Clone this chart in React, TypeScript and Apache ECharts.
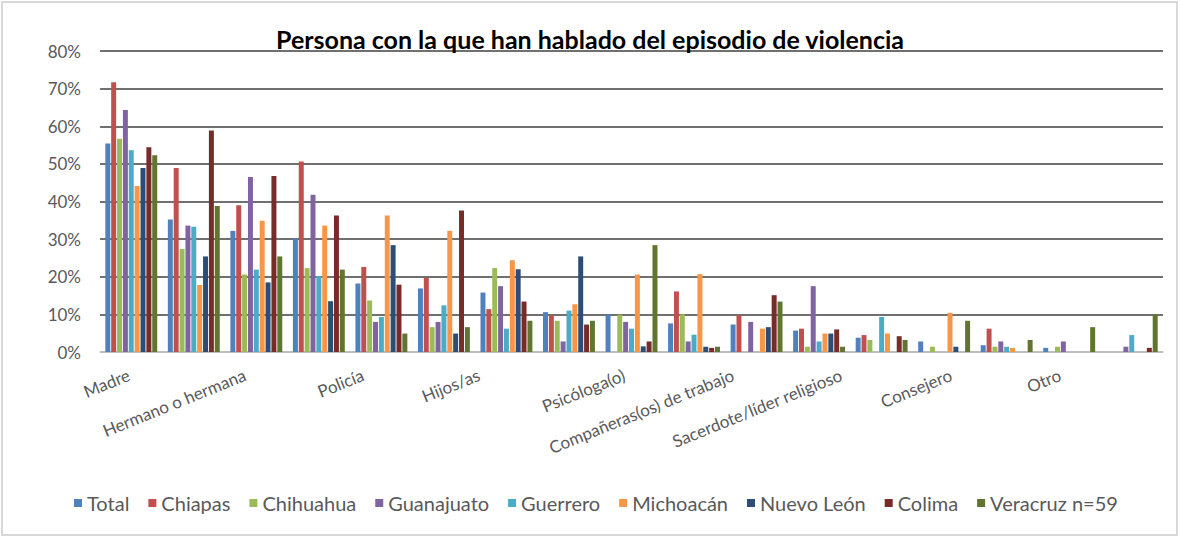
import React, { useEffect, useRef } from "react";
import * as echarts from "echarts";

const TITLE = "Persona con la que han hablado del episodio de violencia";

// 17 categories; only every other one is labelled in the chart
const categories = [
  "Madre",
  "Padre",
  "Hermano o hermana",
  "Pareja",
  "Policía",
  "Amiga(o)",
  "Hijos/as",
  "Otro familiar",
  "Psicóloga(o)",
  "Vecina(o)",
  "Compañeras(os) de trabajo",
  "Abogada(o)",
  "Sacerdote/líder religioso",
  "Médica(o)",
  "Consejero",
  "Maestra(o)",
  "Otro",
];

const visibleLabels = [
  "Madre",
  "Hermano o hermana",
  "Policía",
  "Hijos/as",
  "Psicóloga(o)",
  "Compañeras(os) de trabajo",
  "Sacerdote/líder religioso",
  "Consejero",
  "Otro",
];

const seriesNames = [
  "Total",
  "Chiapas",
  "Chihuahua",
  "Guanajuato",
  "Guerrero",
  "Michoacán",
  "Nuevo León",
  "Colima",
  "Veracruz n=59",
];

const total = [55.4, 35.2, 32.2, 30.1, 18.2, 16.9, 15.8, 10.6, 9.9, 7.6, 7.3, 5.7, 3.8, 2.8, 1.8, 1.1, 0];
const chiapas = [71.7, 48.9, 39.0, 50.6, 22.6, 19.7, 11.4, 9.8, 0, 16.1, 9.8, 6.2, 4.5, 0, 6.2, 0, 0];
const chihuahua = [56.7, 27.4, 20.6, 22.3, 13.7, 6.6, 22.3, 8.3, 9.9, 10.0, 0, 1.4, 3.2, 1.4, 1.4, 1.4, 0];
const guanajuato = [64.3, 33.6, 46.5, 41.8, 8.0, 8.0, 17.5, 2.8, 8.0, 2.8, 8.0, 17.5, 0, 0, 2.8, 2.8, 1.4];
const guerrero = [53.6, 33.3, 21.9, 20.2, 9.3, 12.4, 6.2, 11.0, 6.2, 4.6, 0, 2.8, 9.3, 0, 1.4, 0, 4.5];
const michoacan = [44.1, 17.8, 34.9, 33.6, 36.3, 32.2, 24.4, 12.7, 20.6, 20.7, 6.2, 4.9, 4.9, 10.4, 1.1, 0, 0];
const nuevoLeon = [48.9, 25.4, 18.5, 13.5, 28.4, 4.9, 22.0, 25.4, 1.5, 1.4, 6.6, 4.9, 0, 1.4, 0, 0, 0];
const colima = [54.4, 58.9, 46.8, 36.3, 17.9, 37.6, 13.4, 7.3, 2.8, 1.1, 15.1, 6.0, 4.2, 0, 0, 0, 1.1];
const veracruz = [52.3, 38.8, 25.4, 21.9, 4.9, 6.6, 8.3, 8.3, 28.4, 1.4, 13.4, 1.4, 3.2, 8.3, 3.2, 6.6, 10.0];

const seriesData = [total, chiapas, chihuahua, guanajuato, guerrero, michoacan, nuevoLeon, colima, veracruz];

const colors = ["#4F81BD", "#C0504D", "#9BBB59", "#8064A2", "#4BACC6", "#F79646", "#2C4D75", "#772C2A", "#5F7530"];

const yTicks = { min: 0, max: 80, interval: 10 };

// layout: right-end anchor positions of the rotated category labels (as in the reference)
const labelAnchorX = [129, 245, 363, 479, 624, 733, 841, 951, 1060];
const labelAnchorY = 374;
const labelRotationDeg = 22;

const FONT = "Lato, 'Open Sans', sans-serif";

export default function App() {
  const ref = useRef<HTMLDivElement>(null);

  useEffect(() => {
    if (!ref.current) return;
    const chart = echarts.init(ref.current, undefined, { renderer: "svg" });

    const labelGraphics = visibleLabels.map((t, i) => ({
      type: "text",
      x: labelAnchorX[i],
      y: labelAnchorY,
      rotation: (labelRotationDeg * Math.PI) / 180,
      style: {
        text: t,
        fill: "#595959",
        font: `17px ${FONT}`,
        align: "right",
        verticalAlign: "middle",
      },
    }));

    chart.setOption({
      animation: false,
      backgroundColor: "#ffffff",
      title: {
        text: TITLE,
        left: "center",
        top: 21,
        textStyle: { fontFamily: FONT, fontWeight: "bold", fontSize: 25, color: "#000000" },
      },
      grid: { left: 100, right: 17, top: 51, height: 301, containLabel: false },
      legend: {
        data: seriesNames,
        top: 488,
        left: 69,
        icon: "rect",
        itemWidth: 8,
        itemHeight: 8,
        itemGap: 19,
        textStyle: { fontFamily: FONT, fontSize: 20, color: "#595959" },
      },
      xAxis: {
        type: "category",
        data: categories,
        axisLabel: { show: false },
        axisTick: { show: false },
        axisLine: { show: true, lineStyle: { color: "#d9d9d9", width: 1.5 } },
      },
      yAxis: {
        type: "value",
        min: yTicks.min,
        max: yTicks.max,
        interval: yTicks.interval,
        axisLabel: {
          formatter: "{value}%",
          color: "#595959",
          fontSize: 17,
          fontFamily: FONT,
          margin: 19,
        },
        axisLine: { show: false },
        axisTick: { show: false },
        splitLine: { lineStyle: { color: "#404040", width: 1.5 } },
      },
      series: seriesNames.map((name, i) => ({
        name,
        type: "bar",
        data: seriesData[i],
        barGap: "18%",
        barCategoryGap: "17%",
        itemStyle: { color: colors[i] },
      })),
      graphic: [
        {
          type: "rect",
          shape: { x: 2, y: 2, width: 1175, height: 533 },
          style: { fill: "none", stroke: "#d9d9d9", lineWidth: 2 },
          silent: true,
        },
        ...labelGraphics,
      ],
    });

    return () => chart.dispose();
  }, []);

  return (
    <div
      ref={ref}
      style={{ position: "absolute", left: 0, top: 0, width: 1180, height: 538 }}
    />
  );
}
